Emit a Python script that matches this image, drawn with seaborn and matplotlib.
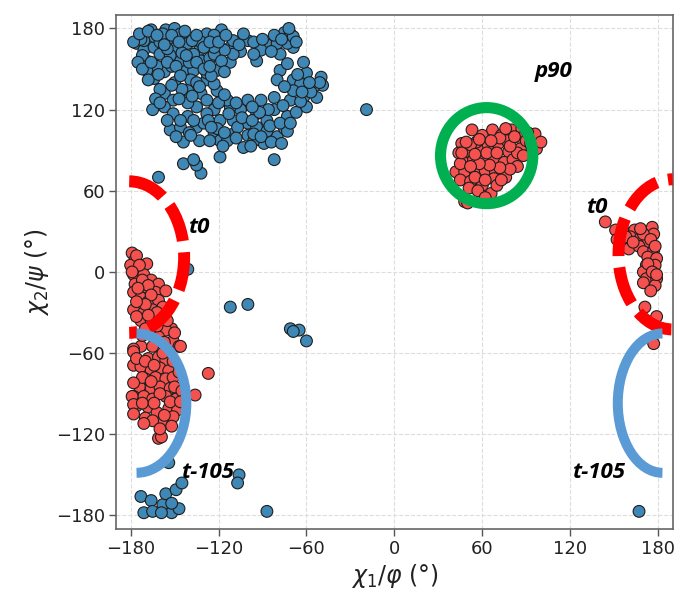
import matplotlib
matplotlib.use("Agg")
import matplotlib.pyplot as plt
from matplotlib.patches import Arc, Ellipse
import pandas as pd
import seaborn as sns

# Dihedral samples (degrees) for the two populations
blue_phi = [-176, -166, -156, -150, -171, -164, -160, -169, -155, -149, -164, -157, -152, -144, -137,
            -133, -141, -128, -118, -123, -132, -126, -112, -100, -94, -87, -78, -75, -71, -69,
            -105, -112, -121, -128, -139, -141, -132, -128, -121, -157, -151, -165, -157, -151, -153,
            -146, -141, -135, -130, -123, -119, -123, -144, -133, -119, -110, -100, -103, -110, -100,
            -94, -87, -89, -80, -75, -73, -82, -94, -105, -112, -82, -119, -132, -135, -144,
            -137, -161, -69, -60, -50, -49, -55, -64, -62, -71, -69, -60, -53, -62, -78,
            -80, -73, -73, -80, -69, -91, -110, -116, -123, -137, -132, -146, -153, -162, -169,
            -164, -171, -146, -138, -123, -110, -96, -128, -123, -135, -141, -146, -128, -114, -100,
            -91, -82, -75, -87, -73, -121, -114, -96,
            -172, -160, -155, -145, -168, -150, -160, -140, -173, -158,
            -178, -174, -168, -162, -157, -152, -147, -143, -135, -130, -126, -120, -115, -106, -103,
            -96, -90, -84, -82, -77, -67, -72,
            -175, -172, -166, -161, -155, -149, -146, -142, -135, -130, -125, -135, -145, -152, -163,
            -147, -138, -133, -126, -118, -116,
            -160, -155, -149, -140, -137, -127, -125, -116, -113, -107, -104, -97, -96, -91, -85,
            -84, -78, -77, -71, -67, -64, -57, -51, -58, -66, -63, -76, -86, -92, -108,
            -97, -120, -116, -108, -98, -117, -126, -139,
            -19, -141,
            -112, -100, -71, -65, -60, -69,
            -173, -166, -171, -165, -158, -156, -152, -159, -149, -147, -145, -152, -154, -106, -107,
            -87, 167]
blue_psi = [169, 179, 179, 180, 164, 166, 161, 156, 171, 166, 143, 148, 152, 149, 149,
            164, 169, 176, 179, 175, 156, 158, 166, 171, 156, 168, 161, 177, 176, 166,
            163, 155, 149, 142, 142, 134, 132, 127, 134, 132, 127, 120, 122, 117, 105,
            107, 115, 107, 110, 120, 112, 102, 96, 97, 97, 102, 101, 92, 112, 110,
            107, 112, 95, 100, 106, 115, 120, 117, 120, 122, 83, 85, 73, 79, 80,
            83, 70, 142, 147, 144, 138, 137, 139, 129, 127, 134, 122, 129, 155, 149,
            142, 154, 169, 169, 174, 164, 161, 164, 161, 161, 170, 156, 160, 152, 149,
            174, 171, 176, 171, 166, 171, 161, 147, 139, 122, 125, 112, 117, 127, 127,
            127, 129, 137, 104, 104, 106, 97, 97,
            160, 170, 165, 162, 142, 140, 135, 155, 172, 176,
            170, 176, 178, 175, 168, 175, 170, 178, 175, 166, 170, 170, 175, 168, 176,
            170, 172, 163, 175, 172, 170, 180,
            155, 150, 155, 146, 155, 152, 145, 160, 155, 150, 145, 140, 135, 138, 128,
            128, 130, 137, 152, 156, 148,
            125, 112, 100, 103, 112, 112, 107, 103, 117, 107, 114, 112, 102, 100, 108,
            96, 110, 95, 110, 118, 126, 133, 140, 140, 146, 133, 123, 120, 118, 125,
            122, 125, 131, 99, 93, 93, 97, 101,
            120, 2,
            -26, -24, -42, -43, -51, -44,
            -166, -169, -178, -177, -172, -164, -178, -178, -161, -175, -156, -171, -141, -150, -156,
            -177, -177]

red_phi = [-179, -177, -180, -169, -175, -178, -171, -166, -161, -177, -170, -163, -156, -178, -173,
           -168, -161, -178, -171, -165, -158, -173, -166, -159, -152, -156, -151, -147, -161, -173,
           -178, -178, -173, -168, -161, -156, -166, -160, -154, -170, -163, -156, -151, -174, -166,
           -160, -153, -178, -171, -165, -156, -149, -136, -176, -168, -162, -154, -148, -170, -159,
           -151, -161, -127, -146, -178, -172, -179, -178, -159,
           -176, -174, -179, -172, -168, -175, -166, -170, -176, -162, -168, -176, -155, -162, -170,
           -150, -157, -165, -176, -170, -164, -158, -151, -147, -150, -145, -172, -178, -166, -160,
           -153, -172, -178, -164, -157, -165, -171, -152, -160, -146,
           144, 151, 156, 164, 176, 161, 168, 173, 177, 154, 160, 167, 170, 177, 173,
           179, 172, 178, 170, 177, 172, 179, 178, 171, 179, 177,
           158, 163, 170, 175, 178, 173, 176, 170, 175, 179, 168, 152,
           46, 53, 60, 67, 73, 80, 87, 96, 86, 97, 93, 44, 51, 58, 64,
           71, 78, 86, 47, 54, 61, 68, 75, 81, 42, 48, 55, 62, 69, 76,
           45, 52, 60, 68, 51, 66, 48, 56, 77, 84, 50,
           45, 52, 58, 63, 70, 72, 79, 82, 90, 93, 88, 84, 79, 72, 65,
           58, 52, 46, 55, 62, 70, 57, 62, 73, 66, 76, 91, 100, 55, 49]
red_psi = [14, 9, 5, 6, 1, -2, -2, -6, -9, -9, -11, -15, -14, -15, -19,
           -22, -21, -28, -30, -28, -26, -36, -36, -34, -42, -43, -51, -55, -48, -55,
           -57, -69, -70, -64, -63, -65, -73, -71, -73, -79, -78, -79, -78, -85, -86,
           -85, -86, -92, -92, -94, -92, -94, -91, -99, -100, -104, -101, -102, -108, -111,
           -107, -123, -75, -55, -59, -47, -92, -98, -122,
           12, 5, 0, -6, -10, -12, -17, -24, -22, -30, -32, -33, -36, -40, -42,
           -45, -52, -55, -64, -66, -69, -60, -66, -74, -85, -88, -78, -82, -81, -90,
           -96, -97, -105, -97, -106, -110, -112, -114, -116, -96,
           37, 31, 31, 31, 33, 26, 25, 22, 28, 19, 17, 19, 15, 16, 11,
           10, 5, 5, 0, -1, -5, -5, -10, -26, -33, -53,
           26, 22, 28, 24, 19, 6, 0, -8, -14, -2, 32, 24,
           95, 105, 101, 105, 101, 105, 106, 102, 99, 91, 90, 88, 89, 92, 94,
           95, 89, 91, 81, 83, 84, 83, 81, 83, 74, 74, 75, 75, 74, 70,
           68, 67, 64, 69, 62, 58, 52, 96, 97, 88, 51,
           80, 94, 98, 88, 88, 99, 93, 100, 97, 95, 86, 78, 76, 77, 79,
           80, 78, 88, 70, 68, 64, 60, 55, 68, 97, 106, 103, 96, 87, 96]

state_colors = {"a": "#3f87b5", "b": "#f5514f"}

df = pd.concat([
    pd.DataFrame({"phi": blue_phi, "psi": blue_psi, "state": "a"}),
    pd.DataFrame({"phi": red_phi, "psi": red_psi, "state": "b"}),
], ignore_index=True)

sns.set_theme(style="whitegrid")
plt.rcParams["font.family"] = ["DejaVu Sans"]

fig = plt.figure(figsize=(6.8, 5.93), dpi=100)
ax = fig.add_axes([0.1706, 0.108, 0.8187, 0.8668])

sns.scatterplot(data=df, x="phi", y="psi", hue="state", palette=state_colors,
                s=72, edgecolor="#1e1e1e", linewidth=0.8, legend=False, ax=ax, zorder=3)

# Rotamer region outlines
ax.add_patch(Ellipse((63, 86), 63, 71, fill=False, edgecolor="#00b050", linewidth=8, zorder=5))
ax.add_patch(Arc((-181, 11), 75, 112, theta1=-90, theta2=90, edgecolor="#ff0000",
                 linewidth=8.6, linestyle=(2.45, (3.2, 0.95)), zorder=5))
ax.add_patch(Arc((190, 13), 74, 111, theta1=90, theta2=270, edgecolor="#ff0000",
                 linewidth=8.6, linestyle=(2.8, (3.2, 0.95)), zorder=5))
ax.add_patch(Arc((-176, -97), 68, 103, theta1=-90, theta2=90, edgecolor="#5b9bd5",
                 linewidth=7.2, zorder=5))
ax.add_patch(Arc((183, -97), 61, 103, theta1=90, theta2=270, edgecolor="#5b9bd5",
                 linewidth=7.2, zorder=5))

lab_kw = dict(fontsize=16, fontweight="bold", fontstyle="italic", color="black",
              ha="center", va="center", zorder=6, family=["Open Sans", "DejaVu Sans"])
ax.text(109, 148, "p90", **lab_kw)
ax.text(-133, 33, "t0", **lab_kw)
ax.text(139, 48, "t0", **lab_kw)
ax.text(-127, -148, "t-105", **lab_kw)
ax.text(140, -148, "t-105", **lab_kw)

ticks = [-180, -120, -60, 0, 60, 120, 180]
ax.set_xlim(-190, 190)
ax.set_ylim(-190, 190)
ax.set_xticks(ticks)
ax.set_yticks(ticks)
ax.tick_params(axis="both", labelsize=13, length=5, width=1, color="#555555",
               direction="out", bottom=True, left=True, labelcolor="#222222", pad=3)
ax.grid(True, linestyle="--", color="#dddddd", linewidth=0.8)
for sp in ax.spines.values():
    sp.set_visible(True)
    sp.set_color("#666666")
    sp.set_linewidth(1.2)

ax.set_xlabel(r"$\chi_1/\varphi$ (°)", fontsize=17, color="#222222", labelpad=3)
ax.set_ylabel(r"$\chi_2/\psi$ (°)", fontsize=17, color="#222222", labelpad=3)

fig.savefig("out.png", dpi=100, facecolor="white")
